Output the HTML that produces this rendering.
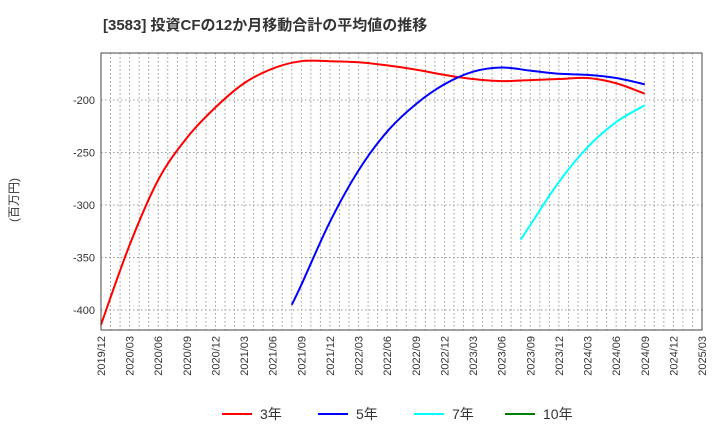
<!DOCTYPE html>
<html><head><meta charset="utf-8"><style>
body{margin:0;background:#fff;font-family:"Liberation Sans","Noto Sans CJK JP",sans-serif}
</style></head><body>
<svg id="c" width="720" height="440" xmlns="http://www.w3.org/2000/svg">
<text x="103" y="30" font-size="15" font-weight="bold" fill="#333" font-family="Liberation Sans, Noto Sans CJK JP, sans-serif">[3583]  投資CFの12か月移動合計の平均値の推移</text>
<text transform="translate(18,200) rotate(-90)" font-size="12" fill="#333" text-anchor="middle" font-family="Liberation Sans, Noto Sans CJK JP, sans-serif">(百万円)</text>
<g id="grid"></g><g id="series"></g><g id="axes"></g><g id="legend"></g>
</svg>
<script>
const xLabels=["2019/12","2020/03","2020/06","2020/09","2020/12","2021/03","2021/06","2021/09","2021/12","2022/03","2022/06","2022/09","2022/12","2023/03","2023/06","2023/09","2023/12","2024/03","2024/06","2024/09","2024/12","2025/03"];
const yTicks=[-200,-250,-300,-350,-400];
// month offsets from 2019/12
const red3M=[0,3,6,9,12,15,18,21,24,27,30,33,36,39,42,45,48,51,54,57];
const red3V=[-414,-338,-276,-236,-207,-184,-170,-163,-163,-164,-167,-171,-176,-180,-182,-181,-180,-179,-184,-194];
const blue5M=[20,21,24,27,30,33,36,39,42,45,48,51,54,57];
const blue5V=[-395,-376,-316,-267,-230,-204,-185,-173,-169,-172,-175,-176,-179,-185];
const cyan7M=[44,45,48,51,54,57];
const cyan7V=[-333,-319,-278,-245,-221,-205];
const L=101,R=702,T=53,B=330,yMax=-155.2,yMin=-419;
const xS=m=>L+(R-L)*m/63;
const yS=v=>T+(yMax-v)/(yMax-yMin)*(B-T);
const NS="http://www.w3.org/2000/svg";
function mk(t,a,p){const e=document.createElementNS(NS,t);for(const k in a)e.setAttribute(k,a[k]);p.appendChild(e);return e;}
const g=document.getElementById('grid'),ax=document.getElementById('axes'),s=document.getElementById('series'),lg=document.getElementById('legend');
for(let m=1;m<63;m++){const l=mk('line',{x1:xS(m),x2:xS(m),y1:T,y2:B,stroke:'#999','stroke-dasharray':'1.5,2.5','stroke-width':1},g);

}
yTicks.forEach(v=>{const l=mk('line',{x1:L,x2:R,y1:yS(v),y2:yS(v),stroke:'#999','stroke-dasharray':'1.5,2.5'},g);


const t=mk('text',{x:L-6,y:yS(v)+4,'text-anchor':'end','font-size':11,fill:'#333'},ax);t.textContent=v;

});
xLabels.forEach((lb,i)=>{const x=xS(i*3);const t=mk('text',{transform:`translate(${x+4},${B+6}) rotate(-90)`,'text-anchor':'end','font-size':11,fill:'#333'},ax);t.textContent=lb;

});
const fr=mk('rect',{x:L,y:T,width:R-L,height:B-T,fill:'none',stroke:'#444'},ax);


function path(ms,vs){const p=ms.map((m,i)=>[xS(m),yS(vs[i])]);let d=`M${p[0][0]},${p[0][1]}`;
for(let i=0;i<p.length-1;i++){const p0=p[Math.max(i-1,0)],p1=p[i],p2=p[i+1],p3=p[Math.min(i+2,p.length-1)];
d+=` C${p1[0]+(p2[0]-p0[0])/6},${p1[1]+(p2[1]-p0[1])/6} ${p2[0]-(p3[0]-p1[0])/6},${p2[1]-(p3[1]-p1[1])/6} ${p2[0]},${p2[1]}`;}return d;}
[[red3M,red3V,'#ff0000','series-3yr'],[blue5M,blue5V,'#0000ff','series-5yr'],[cyan7M,cyan7V,'#00ffff','series-7yr']].forEach(([m,v,c,n])=>{
const e=mk('path',{d:path(m,v),fill:'none',stroke:c,'stroke-width':2},s);

});
[['3年','#ff0000',222],['5年','#0000ff',318],['7年','#00ffff',414],['10年','#008000',505]].forEach(([t,c,x])=>{
const l=mk('line',{x1:x,x2:x+30,y1:414,y2:414,stroke:c,'stroke-width':2},lg);


const tx=mk('text',{x:x+38,y:419,'font-size':14,fill:'#333'},lg);tx.textContent=t;

});
</script>
</body></html>
